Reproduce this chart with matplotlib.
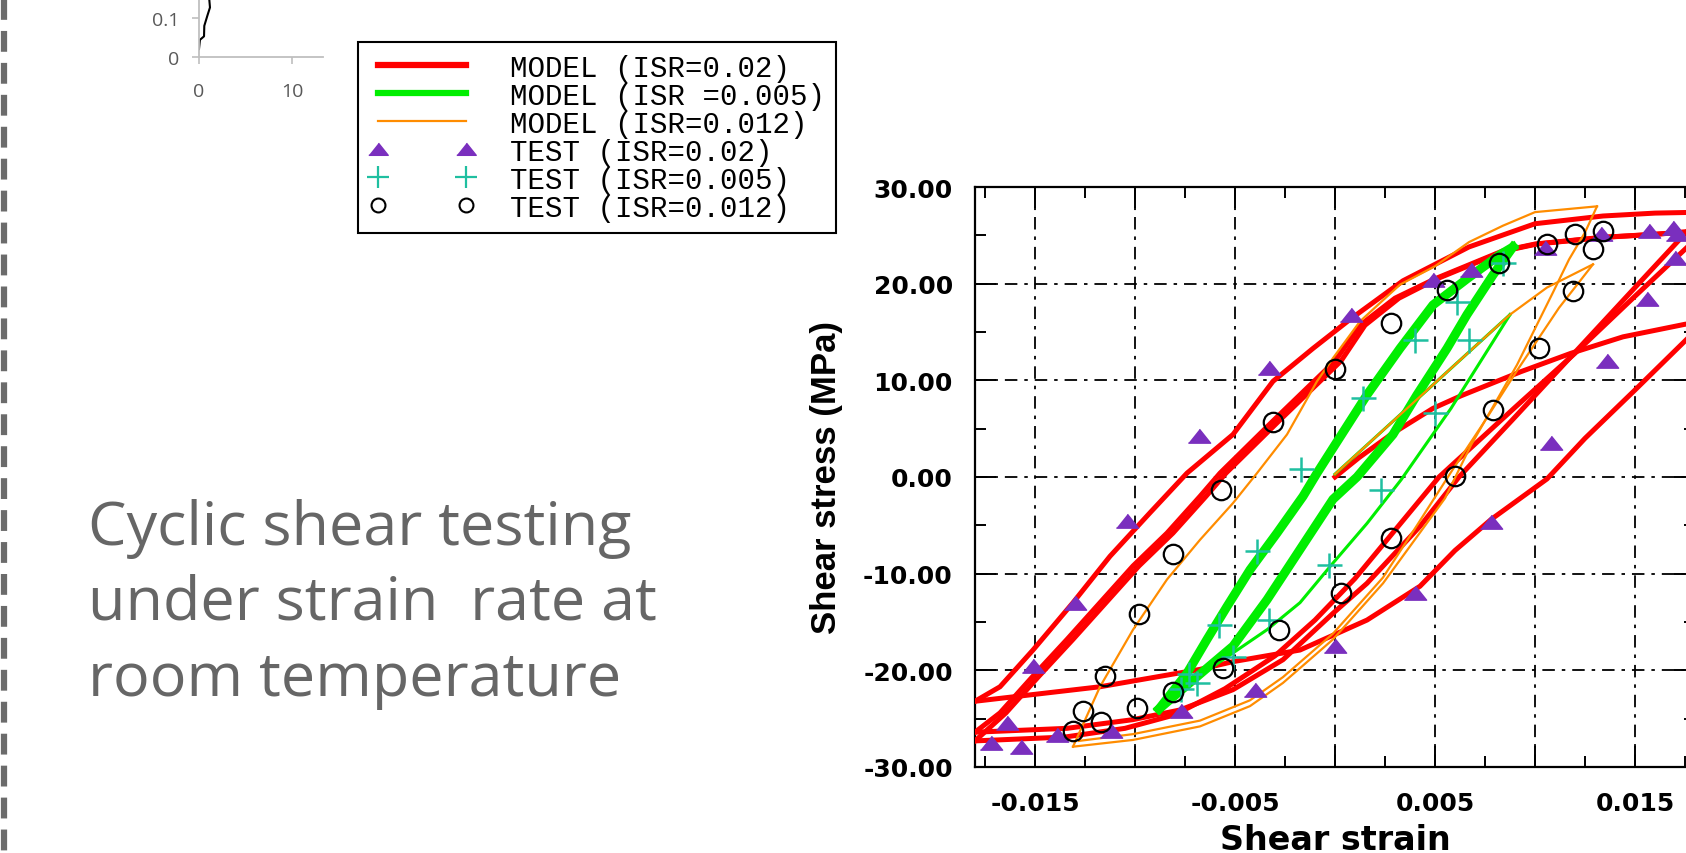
import matplotlib
matplotlib.use("Agg")
import matplotlib.pyplot as plt
from matplotlib.lines import Line2D
from matplotlib.ticker import FixedLocator, FuncFormatter, FormatStrFormatter

plt.rcParams["lines.scale_dashes"] = False

W, H = 1686, 854

# ---- test points (shear strain, shear stress MPa)
test02_x = [-0.0068, -0.0033, 0.0008, 0.0049, 0.0068, 0.0105, 0.0133, 0.0157, 0.0169, 0.0171,
            0.0170, 0.0156, 0.0136, 0.0108, 0.0078, 0.0040, 0.0000, -0.0040, -0.0077, -0.0112,
            -0.0139, -0.0157, -0.0172, -0.0164, -0.0151, -0.0130, -0.0104]
test02_y = [4.2, 11.3, 16.8, 20.4, 21.4, 23.7, 25.1, 25.5, 25.8, 25.1,
            22.7, 18.4, 12.0, 3.5, -4.7, -12.0, -17.5, -22.0, -24.2, -26.3,
            -26.7, -27.9, -27.5, -25.4, -19.6, -13.0, -4.6]

test005_x = [0.0084, 0.0061, 0.0067, 0.0040, 0.0014, 0.0050, -0.0017, 0.0023, -0.0039, -0.0003,
             -0.0058, -0.0033, -0.0051, -0.0073, -0.0069, -0.0077]
test005_y = [22.1, 18.1, 14.2, 14.2, 8.2, 6.6, 0.8, -1.3, -7.7, -9.1,
             -15.3, -14.8, -18.6, -20.4, -21.3, -21.9]

test012_x = [0.0082, 0.0106, 0.0120, 0.0134, 0.0129, 0.0119, 0.0102, 0.0079, 0.0060, 0.0056,
             0.0028, 0.0000, -0.0031, -0.0057, -0.0081, -0.0098, -0.0115, -0.0099, -0.0126, -0.0117,
             -0.0131, -0.0081, -0.0056, -0.0028, 0.0003, 0.0028]
test012_y = [22.1, 24.1, 25.1, 25.5, 23.6, 19.2, 13.3, 6.9, 0.1, 19.3,
             15.9, 11.2, 5.7, -1.3, -8.0, -14.2, -20.6, -23.9, -24.2, -25.3,
             -26.3, -22.2, -19.8, -15.8, -12.0, -6.3]

# ---- model ISR=0.02 (red), branch by branch
r1_x = [0.0, 0.0012, 0.0028, 0.0049, 0.0063, 0.0093, 0.0118, 0.0144, 0.0175, 0.0185]
r1_y = [0.0, 2.0, 4.4, 7.1, 8.4, 10.9, 12.8, 14.5, 15.8, 16.1]
r2_x = [0.0185, 0.0150, 0.0125, 0.0106, 0.0078, 0.0060, 0.00425, 0.0016, -0.00175, -0.0051,
        -0.00675, -0.01175, -0.01675, -0.0180]
r2_y = [16.1, 9.0, 4.0, -0.2, -4.4, -7.6, -11.3, -14.8, -17.9, -19.1, -19.9, -21.7, -22.9, -23.2]
r3_x = [-0.0180, -0.01675, -0.0151, -0.0131, -0.01125, -0.00925, -0.0074, -0.0051, -0.0031, -0.0011,
        0.00075, 0.0034, 0.0067, 0.0100, 0.0134, 0.0160, 0.0185]
r3_y = [-23.2, -21.7, -17.9, -13.0, -8.2, -3.7, 0.4, 4.4, 9.9, 13.3, 16.3, 20.3, 23.8, 26.2, 27.0, 27.3, 27.4]
r4_x = [0.0185, 0.0150, 0.0120, 0.0090, 0.0062, 0.00425, 0.0016, -0.0001, -0.0026, -0.0051,
        -0.00775, -0.0101, -0.0134, -0.0180]
r4_y = [27.4, 19.6, 12.9, 6.2, 0.0, -5.1, -11.0, -14.1, -18.9, -22.0, -24.1, -25.1, -26.0, -26.4]
r5_x = [-0.0180, -0.01675, -0.0151, -0.0134, -0.01175, -0.0101, -0.0084, -0.00675, -0.00575, -0.0031,
        0.0, 0.00125, 0.0030, 0.0050, 0.0084, 0.0100, 0.0134, 0.0159, 0.0185]
r5_y = [-26.4, -24.4, -20.6, -16.8, -13.0, -9.2, -5.8, -2.0, 0.4, 5.8,
        12.0, 15.7, 18.5, 20.5, 23.4, 24.1, 24.8, 25.1, 25.5]
r6_x = [0.0185, 0.0150, 0.0120, 0.0090, 0.0052, 0.0030, 0.0010, -0.0010, -0.0030, -0.0055,
        -0.0080, -0.0105, -0.0135, -0.0180]
r6_y = [25.5, 18.7, 12.8, 7.2, 0.0, -5.5, -10.5, -14.8, -18.5, -21.9, -24.6, -26.0, -26.9, -27.3]
r7_x = [-0.0180, -0.01645, -0.0148, -0.0131, -0.01145, -0.0098, -0.0081, -0.00645, -0.00545, -0.0028,
        0.0003, 0.0015, 0.0032, 0.0051, 0.0085, 0.0101, 0.0135, 0.0160, 0.0185]
r7_y = [-27.3, -24.4, -20.6, -16.8, -13.0, -9.2, -5.8, -2.0, 0.4, 5.8,
        12.0, 15.7, 18.5, 20.5, 23.4, 24.1, 24.8, 25.1, 25.5]

# ---- model ISR=0.005 (green)
g1_x = [0.0, 0.00875]
g1_y = [0.3, 16.8]
g2_x = [0.00875, 0.0058, 0.0033, 0.0016, -0.0001, -0.00175, -0.0034, -0.0051, -0.0071, -0.0088]
g2_y = [16.8, 7.1, -0.3, -4.8, -8.9, -13.0, -15.8, -18.2, -21.0, -24.0]
g3_x = [-0.0088, -0.0074, -0.0064, -0.0054, -0.00425, -0.0029, -0.0016, -0.0009, -0.0001, 0.0016,
        0.00325, 0.0049, 0.0066, 0.00825, 0.0089]
g3_y = [-24.0, -20.3, -16.8, -13.4, -9.6, -5.8, -2.0, 0.4, 3.0, 8.5, 13.3, 17.8, 20.5, 23.0, 23.8]
g4_x = [0.0089, 0.0079, 0.0066, 0.0056, 0.0041, 0.0029, 0.0011, -0.0001, -0.00175, -0.0034,
        -0.0051, -0.0063, -0.0088]
g4_y = [23.8, 20.9, 16.8, 13.3, 8.5, 4.4, 0.0, -2.3, -7.5, -12.7, -17.5, -19.6, -24.0]

# ---- model ISR=0.012 (orange)
o1_x = [0.0, 0.00875, 0.0106, 0.0129]
o1_y = [0.3, 16.8, 19.6, 22.0]
o2_x = [0.0129, 0.0112, 0.0091, 0.0074, 0.0058, 0.0041, 0.0024, -0.0001, -0.0026, -0.00425,
        -0.00675, -0.0101, -0.0128]
o2_y = [22.0, 17.5, 11.0, 5.5, 0.5, -5.0, -10.4, -16.2, -20.7, -23.1, -25.2, -26.6, -27.3]
o3_x = [-0.0131, -0.01175, -0.0101, -0.0084, -0.00675, -0.0051, -0.0039, -0.0024, -0.0009, -0.0001,
        0.00125, 0.00325, 0.0050, 0.0067, 0.0084, 0.0100, 0.0131]
o3_y = [-27.9, -21.7, -15.8, -10.6, -6.5, -2.7, 0.4, 4.4, 9.9, 12.3,
        16.1, 19.9, 21.8, 24.3, 26.0, 27.4, 28.0]
o4_x = [0.0131, 0.0125, 0.0117, 0.0109, 0.0091, 0.0068, 0.0055, 0.0024, -0.0001, -0.0026,
        -0.00425, -0.00675, -0.0101, -0.0131]
o4_y = [28.0, 25.3, 22.5, 19.1, 11.6, 3.3, -2.2, -11.0, -16.8, -21.3, -23.7, -25.8, -27.2, -27.9]

# ---- small cropped chart in the corner
inset_x = [0.0, 0.1, 0.54, 0.57, 0.9, 1.18, 1.1, 1.2]
inset_y = [0.0205, 0.044, 0.053, 0.080, 0.106, 0.127, 0.149, 0.17]

x_major = [-0.015, -0.01, -0.005, 0.0, 0.005, 0.01, 0.015]
x_minor = [-0.0175, -0.0125, -0.0075, -0.0025, 0.0025, 0.0075, 0.0125, 0.0175]
y_major = [-30, -20, -10, 0, 10, 20, 30]
y_minor = [-25, -15, -5, 5, 15, 25]

legend_labels = ["MODEL (ISR=0.02)", "MODEL (ISR =0.005)", "MODEL (ISR=0.012)",
                 "TEST (ISR=0.02)", "TEST (ISR=0.005)", "TEST (ISR=0.012)"]

RED, GREEN, ORANGE = "#ff0000", "#00ee00", "#ff8c00"
PURPLE, TEAL = "#7a2fbe", "#1fbfa0"
TRI = [(-1, -0.6), (1, -0.6), (0, 0.65)]


def fig_rect(left, top, right, bottom):
    return [left / W, 1 - bottom / H, (right - left) / W, (bottom - top) / H]


fig = plt.figure(figsize=(W / 100, H / 100), dpi=100)

# main hysteresis chart
ax = fig.add_axes(fig_rect(975, 188, 1695, 768))
ax.set_xlim(-0.018, 0.018)
ax.set_ylim(-30, 30)
ax.set_axisbelow(True)

for bx, by in [(r1_x, r1_y), (r2_x, r2_y), (r3_x, r3_y), (r4_x, r4_y),
               (r5_x, r5_y), (r6_x, r6_y), (r7_x, r7_y)]:
    ax.plot(bx, by, color=RED, lw=3.6, solid_joinstyle="round", zorder=3)
for bx, by in [(g1_x, g1_y), (g2_x, g2_y)]:
    ax.plot(bx, by, color=GREEN, lw=2.2, zorder=3.2)
for bx, by in [(g3_x, g3_y), (g4_x, g4_y)]:
    ax.plot(bx, by, color=GREEN, lw=6.5, solid_joinstyle="round", zorder=3.2)
for bx, by in [(o1_x, o1_y), (o2_x, o2_y), (o3_x, o3_y), (o4_x, o4_y)]:
    ax.plot(bx, by, color=ORANGE, lw=1.6, zorder=3.4)

ax.plot(test02_x, test02_y, ls="none", marker=TRI, ms=16, color=PURPLE, zorder=5)
ax.plot(test005_x, test005_y, ls="none", marker="+", ms=18, mew=1.8, color=TEAL, zorder=5)
ax.plot(test012_x, test012_y, ls="none", marker="o", ms=14, mfc="none", mec="black",
        mew=1.6, zorder=5)

ax.xaxis.set_major_locator(FixedLocator(x_major))
ax.xaxis.set_minor_locator(FixedLocator(x_minor))
ax.yaxis.set_major_locator(FixedLocator(y_major))
ax.yaxis.set_minor_locator(FixedLocator(y_minor))
ax.xaxis.set_major_formatter(FuncFormatter(
    lambda v, pos: "" if round(v / 0.005) % 2 == 0 else f"{v:.3f}"))
ax.yaxis.set_major_formatter(FormatStrFormatter("%.2f"))

ax.tick_params(which="both", direction="in", top=True, right=True, width=1.4, color="black")
ax.tick_params(which="major", length=15)
ax.tick_params(which="minor", length=8)
ax.tick_params(axis="x", which="major", pad=17, labelsize=18)
ax.tick_params(axis="y", which="major", pad=16, labelsize=18)
plt.setp(ax.get_xticklabels() + ax.get_yticklabels(), fontweight="bold", family="DejaVu Sans")

ax.grid(True, which="major", color="black", lw=1.3, ls=(0, (9, 5, 2.5, 5)))
for sp in ax.spines.values():
    sp.set_linewidth(1.6)

ax.set_xlabel("Shear strain", fontsize=24, fontweight="bold", family="DejaVu Sans")
ax.xaxis.set_label_coords(0.5, -0.096)
ax.set_ylabel("Shear stress (MPa)", fontsize=25, fontweight="bold", family="Liberation Sans")
ax.yaxis.set_label_coords(-0.183, 0.5)

# legend box
handles = [
    Line2D([], [], color=RED, lw=4.5),
    Line2D([], [], color=GREEN, lw=4.5),
    Line2D([], [], color=ORANGE, lw=1.6),
    Line2D([], [], ls="none", marker=TRI, ms=14, color=PURPLE),
    Line2D([], [], ls="none", marker="+", ms=16, mew=1.6, color=TEAL),
    Line2D([], [], ls="none", marker="o", ms=10, mfc="none", mec="black", mew=1.5),
]
leg = fig.legend(handles, legend_labels, loc="upper left",
                 bbox_to_anchor=(358 / W, 1 - 43 / H), bbox_transform=fig.transFigure,
                 borderaxespad=0, numpoints=2, prop={"family": "Liberation Mono", "size": 21},
                 handlelength=3.6, handletextpad=1.2, labelspacing=0.0, borderpad=0.4,
                 fancybox=False, shadow=False, framealpha=1)
leg.get_frame().set_edgecolor("black")
leg.get_frame().set_linewidth(1.5)

# small cropped chart at top left
ins = fig.add_axes(fig_rect(199, -20, 323, 58))
ins.set_xlim(0, 13.33)
ins.set_ylim(0, 0.2)
ins.patch.set_alpha(0)
ins.plot(inset_x, inset_y, color="black", lw=1.5)
ins.spines[["top", "right"]].set_visible(False)
for side in ("left", "bottom"):
    ins.spines[side].set_color("#bfbfbf")
    ins.spines[side].set_linewidth(1.3)
ins.set_xticks([0, 10])
ins.set_yticks([0, 0.1])
ins.set_yticklabels(["0", "0.1"])
ins.tick_params(direction="out", length=5, width=1.2, color="#bfbfbf", labelcolor="#595959",
                labelsize=14)
ins.tick_params(axis="x", pad=13)
ins.tick_params(axis="y", pad=9)
plt.setp(ins.get_xticklabels() + ins.get_yticklabels(), family="Open Sans")

# slide text
for txt, base in [("Cyclic shear testing", 545), ("under strain  rate at", 620),
                  ("room temperature", 696)]:
    fig.text(88 / W, 1 - base / H, txt, fontsize=44, family="Open Sans", color="#666666",
             va="baseline", ha="left")

# dashed rule at the left edge
fig.add_artist(Line2D([4 / W, 4 / W], [1, 0], transform=fig.transFigure, color="#6b6b6b",
                      lw=4.5, ls=(0, (15, 8))))

fig.savefig("out.png", dpi=100)
